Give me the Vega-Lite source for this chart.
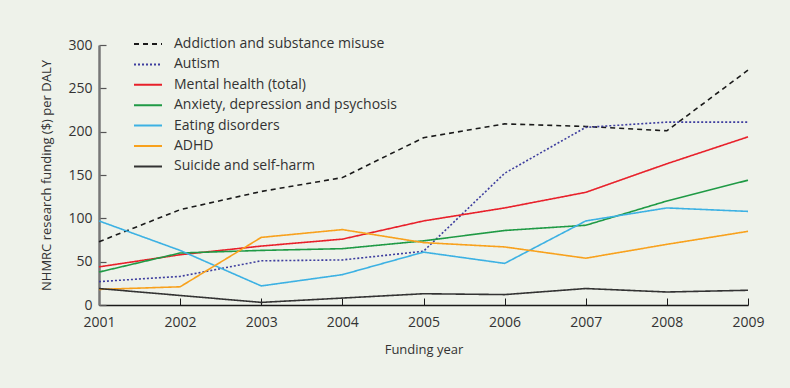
{
  "$schema": "https://vega.github.io/schema/vega-lite/v6.json",
  "width": 649,
  "height": 260,
  "autosize": {"type": "none"},
  "padding": {"left": 99, "top": 45, "right": 42, "bottom": 83},
  "background": "#eef2ea",
  "config": {
    "view": {"stroke": null},
    "font": "Open Sans",
    "axis": {"labelFont": "Open Sans", "titleFont": "Open Sans", "labelColor": "#333333", "titleColor": "#333333", "titleFontWeight": "normal", "grid": false}
  },
  "data": {
    "values": [
      {"year": 2001, "series": "Addiction and substance misuse", "value": 73},
      {"year": 2002, "series": "Addiction and substance misuse", "value": 110},
      {"year": 2003, "series": "Addiction and substance misuse", "value": 131},
      {"year": 2004, "series": "Addiction and substance misuse", "value": 147},
      {"year": 2005, "series": "Addiction and substance misuse", "value": 193},
      {"year": 2006, "series": "Addiction and substance misuse", "value": 209},
      {"year": 2007, "series": "Addiction and substance misuse", "value": 206},
      {"year": 2008, "series": "Addiction and substance misuse", "value": 201},
      {"year": 2009, "series": "Addiction and substance misuse", "value": 271},
      {"year": 2001, "series": "Autism", "value": 27},
      {"year": 2002, "series": "Autism", "value": 33},
      {"year": 2003, "series": "Autism", "value": 51},
      {"year": 2004, "series": "Autism", "value": 52},
      {"year": 2005, "series": "Autism", "value": 62},
      {"year": 2006, "series": "Autism", "value": 152},
      {"year": 2007, "series": "Autism", "value": 205},
      {"year": 2008, "series": "Autism", "value": 211},
      {"year": 2009, "series": "Autism", "value": 211},
      {"year": 2001, "series": "Mental health (total)", "value": 44},
      {"year": 2002, "series": "Mental health (total)", "value": 58},
      {"year": 2003, "series": "Mental health (total)", "value": 68},
      {"year": 2004, "series": "Mental health (total)", "value": 76},
      {"year": 2005, "series": "Mental health (total)", "value": 97},
      {"year": 2006, "series": "Mental health (total)", "value": 112},
      {"year": 2007, "series": "Mental health (total)", "value": 130},
      {"year": 2008, "series": "Mental health (total)", "value": 163},
      {"year": 2009, "series": "Mental health (total)", "value": 194},
      {"year": 2001, "series": "Anxiety, depression and psychosis", "value": 38},
      {"year": 2002, "series": "Anxiety, depression and psychosis", "value": 60},
      {"year": 2003, "series": "Anxiety, depression and psychosis", "value": 63},
      {"year": 2004, "series": "Anxiety, depression and psychosis", "value": 65},
      {"year": 2005, "series": "Anxiety, depression and psychosis", "value": 74},
      {"year": 2006, "series": "Anxiety, depression and psychosis", "value": 86},
      {"year": 2007, "series": "Anxiety, depression and psychosis", "value": 92},
      {"year": 2008, "series": "Anxiety, depression and psychosis", "value": 120},
      {"year": 2009, "series": "Anxiety, depression and psychosis", "value": 144},
      {"year": 2001, "series": "Eating disorders", "value": 97},
      {"year": 2002, "series": "Eating disorders", "value": 63},
      {"year": 2003, "series": "Eating disorders", "value": 22},
      {"year": 2004, "series": "Eating disorders", "value": 35},
      {"year": 2005, "series": "Eating disorders", "value": 61},
      {"year": 2006, "series": "Eating disorders", "value": 48},
      {"year": 2007, "series": "Eating disorders", "value": 97},
      {"year": 2008, "series": "Eating disorders", "value": 112},
      {"year": 2009, "series": "Eating disorders", "value": 108},
      {"year": 2001, "series": "ADHD", "value": 18},
      {"year": 2002, "series": "ADHD", "value": 21},
      {"year": 2003, "series": "ADHD", "value": 78},
      {"year": 2004, "series": "ADHD", "value": 87},
      {"year": 2005, "series": "ADHD", "value": 72},
      {"year": 2006, "series": "ADHD", "value": 67},
      {"year": 2007, "series": "ADHD", "value": 54},
      {"year": 2008, "series": "ADHD", "value": 70},
      {"year": 2009, "series": "ADHD", "value": 85},
      {"year": 2001, "series": "Suicide and self-harm", "value": 19},
      {"year": 2002, "series": "Suicide and self-harm", "value": 11},
      {"year": 2003, "series": "Suicide and self-harm", "value": 3},
      {"year": 2004, "series": "Suicide and self-harm", "value": 8},
      {"year": 2005, "series": "Suicide and self-harm", "value": 13},
      {"year": 2006, "series": "Suicide and self-harm", "value": 12},
      {"year": 2007, "series": "Suicide and self-harm", "value": 19},
      {"year": 2008, "series": "Suicide and self-harm", "value": 15},
      {"year": 2009, "series": "Suicide and self-harm", "value": 17}
    ]
  },
  "mark": {"type": "line", "strokeWidth": 1.6, "clip": false},
  "encoding": {
    "x": {
      "field": "year", "type": "quantitative",
      "scale": {"domain": [2001, 2009], "nice": false, "zero": false},
      "axis": {"title": "Funding year", "values": [2001,2002,2003,2004,2005,2006,2007,2008,2009], "format": "d",
        "domainColor": "#1a1a1a", "domainWidth": 1.5, "tickColor": "#1a1a1a", "tickWidth": 1, "tickSize": -7,
        "labelFontSize": 14, "labelPadding": 17, "titleFontSize": 13, "titlePadding": 14, "labelFlush": false}
    },
    "y": {
      "field": "value", "type": "quantitative",
      "scale": {"domain": [0, 300], "nice": false},
      "axis": {"title": "NHMRC research funding ($) per DALY", "values": [0,50,100,150,200,250,300],
        "domainColor": "#777777", "domainWidth": 2.5, "tickColor": "#555555", "tickWidth": 1.2, "tickSize": -7,
        "labelFontSize": 14, "labelPadding": 14, "titleFontSize": 13, "titlePadding": 14}
    },
    "color": {
      "field": "series", "type": "nominal",
      "scale": {
        "domain": ["Addiction and substance misuse", "Autism", "Mental health (total)", "Anxiety, depression and psychosis", "Eating disorders", "ADHD", "Suicide and self-harm"],
        "range": ["#1a1a1a", "#3d3d9e", "#e8202a", "#1f9a45", "#3cb1e3", "#f8a11c", "#333333"]
      },
      "legend": {"title": null, "orient": "none", "legendX": 38, "legendY": -12, "symbolType": "M-1.4,0L1.4,0", "symbolSize": 400, "symbolStrokeWidth": 2,
        "labelFont": "Open Sans", "labelFontSize": 14, "labelColor": "#333333", "rowPadding": 2.4, "labelOffset": 15, "padding": 0, "labelLimit": 400}
    },
    "strokeDash": {
      "field": "series", "type": "nominal",
      "scale": {
        "domain": ["Addiction and substance misuse", "Autism", "Mental health (total)", "Anxiety, depression and psychosis", "Eating disorders", "ADHD", "Suicide and self-harm"],
        "range": [[5, 4], [2, 2], [1, 0], [1, 0], [1, 0], [1, 0], [1, 0]]
      },
      "legend": {"title": null, "orient": "none", "legendX": 38, "legendY": -12}
    }
  }
}
